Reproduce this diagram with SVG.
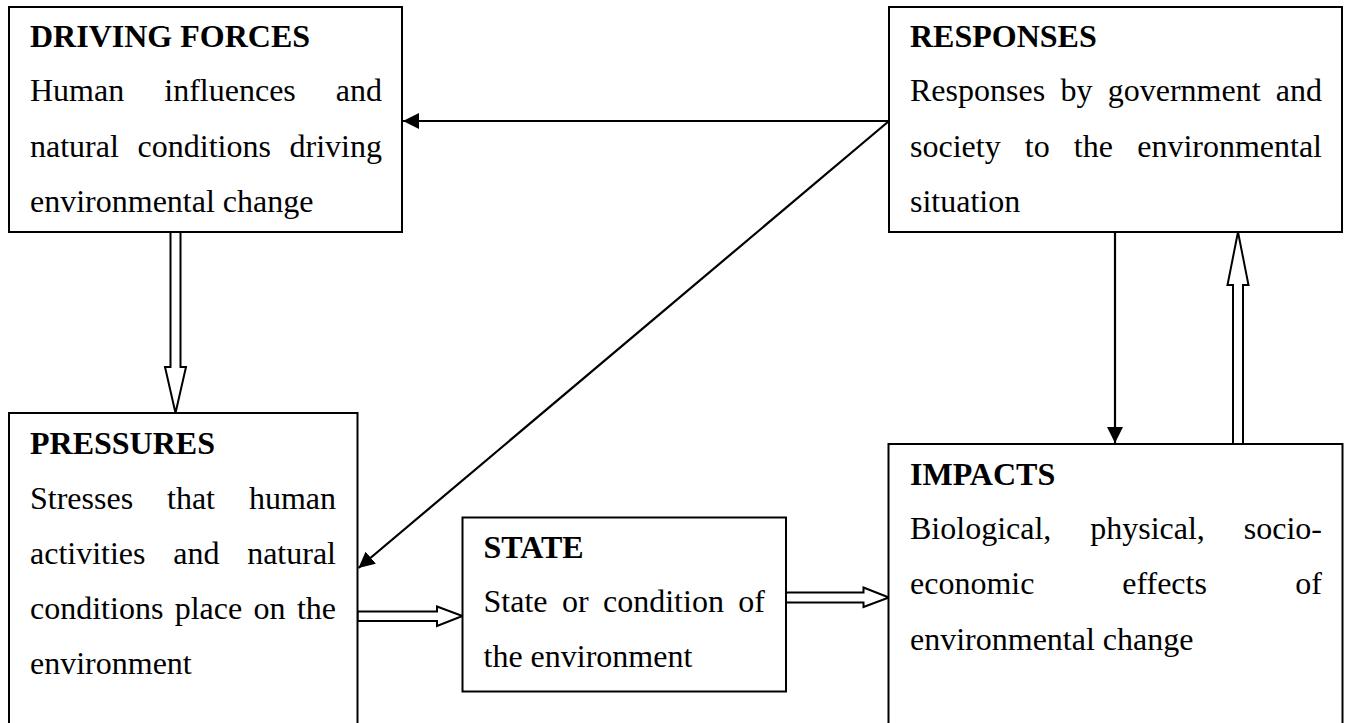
<svg xmlns="http://www.w3.org/2000/svg" width="1347" height="723" viewBox="0 0 1347 723">
<style>
.box{fill:#fff;stroke:#000;stroke-width:2}
text{font-family:"Liberation Serif","Times New Roman",serif;font-size:32px;fill:#000}
.t{font-weight:bold}
.e{text-anchor:end}
.blk{fill:#fff;stroke:#000;stroke-width:2;stroke-linejoin:miter}
.ln{fill:none;stroke:#000;stroke-width:2.2}
</style>
<defs>
<marker id="ah" markerUnits="userSpaceOnUse" markerWidth="17" markerHeight="16" refX="16" refY="8" orient="auto">
<path d="M0,0 L16,8 L0,16 z" fill="#000"/>
</marker>
</defs>
<rect width="1347" height="723" fill="#fff"/>

<g id="connectors">
<line class="ln" x1="889" y1="121" x2="403" y2="121" marker-end="url(#ah)"/>
<line class="ln" x1="889" y1="121" x2="358.5" y2="568" marker-end="url(#ah)"/>
<line class="ln" x1="1115" y1="232" x2="1115" y2="443" marker-end="url(#ah)"/>
<polygon class="blk" points="170.5,232 180.5,232 180.5,367 186,367 175.5,413 165,367 170.5,367"/>
<polygon class="blk" points="1233,444 1233,285 1227.5,285 1238,232 1248.5,285 1243,285 1243,444"/>
<polygon class="blk" points="357.5,611.5 437,611.5 437,606.5 462.5,616 437,626 437,621 357.5,621"/>
<polygon class="blk" points="786,592.5 863.5,592.5 863.5,587.5 889,597.5 863.5,607 863.5,602.5 786,602.5"/>
</g>

<g id="driving-forces">
<rect class="box" x="9" y="7" width="393" height="225"/>
<text class="t" x="30" y="47">DRIVING FORCES</text>
<text x="30" y="101">Human</text><text x="164.3" y="101">influences</text><text class="e" x="382" y="101">and</text>
<text x="30" y="157">natural</text><text x="137.6" y="157">conditions</text><text class="e" x="382" y="157">driving</text>
<text x="30" y="212">environmental change</text>
</g>

<g id="responses">
<rect class="box" x="889" y="7" width="453" height="225"/>
<text class="t" x="910" y="47">RESPONSES</text>
<text x="910" y="101">Responses</text><text x="1060.4" y="101">by</text><text x="1107.7" y="101">government</text><text class="e" x="1322" y="101">and</text>
<text x="910" y="157">society</text><text x="1024.8" y="157">to</text><text x="1073.8" y="157">the</text><text class="e" x="1322" y="157">environmental</text>
<text x="910" y="212">situation</text>
</g>

<g id="pressures">
<rect class="box" x="9" y="413" width="348.5" height="330"/>
<text class="t" x="30" y="454">PRESSURES</text>
<text x="30" y="509">Stresses</text><text x="167" y="509">that</text><text class="e" x="336" y="509">human</text>
<text x="30" y="564">activities</text><text x="173.3" y="564">and</text><text class="e" x="336" y="564">natural</text>
<text x="30" y="619">conditions</text><text x="174.7" y="619">place</text><text x="253.6" y="619">on</text><text class="e" x="336" y="619">the</text>
<text x="30" y="674">environment</text>
</g>

<g id="state">
<rect class="box" x="462.5" y="517.5" width="323.5" height="174"/>
<text class="t" x="483.5" y="557.5">STATE</text>
<text x="483.5" y="611.5">State</text><text x="561.9" y="611.5">or</text><text x="603" y="611.5">condition</text><text class="e" x="765" y="611.5">of</text>
<text x="483.5" y="667">the environment</text>
</g>

<g id="impacts">
<rect class="box" x="888.5" y="444" width="454" height="300"/>
<text class="t" x="910" y="485">IMPACTS</text>
<text x="910" y="539">Biological,</text><text x="1090.2" y="539">physical,</text><text class="e" x="1322" y="539">socio-</text>
<text x="910" y="594">economic</text><text x="1122.2" y="594">effects</text><text class="e" x="1322" y="594">of</text>
<text x="910" y="650">environmental change</text>
</g>
</svg>
